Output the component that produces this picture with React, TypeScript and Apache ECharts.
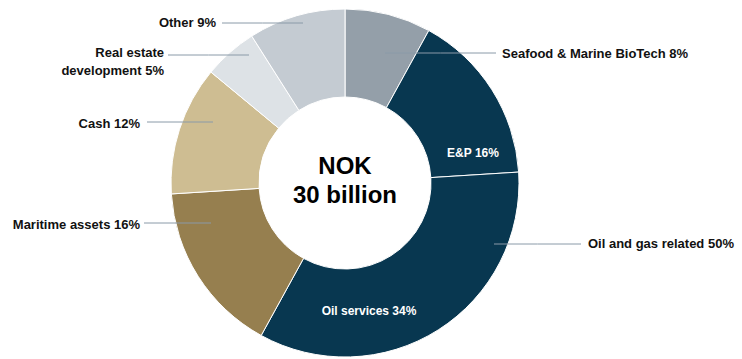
import React, { useEffect, useRef } from "react";
import * as echarts from "echarts";

const sliceNames = [
  "Seafood & Marine BioTech",
  "E&P",
  "Oil services",
  "Maritime assets",
  "Cash",
  "Real estate\ndevelopment",
  "Other",
];
const sliceValues = [8, 16, 34, 16, 12, 5, 9];
const sliceColors = ["#949fa9", "#083750", "#083750", "#967f4f", "#cebd92", "#dde2e6", "#c4cbd2"];
const insideSlices = ["E&P", "Oil services"];

const groupNames = ["Seafood & Marine BioTech", "Oil and gas related", "Rest"];
const groupValues = [8, 50, 42];

const centerTitle = "NOK\n30 billion";

const FONT = "'Liberation Sans', Arial, Helvetica, sans-serif";
const LINE_COLOR = "#8a9aa8";

// label layout in page pixels
const sliceLabelLayout: any[] = [
  { x: 502, y: 53, align: "left", line: [385, 496, 53] },
  { x: 473, y: 153, align: "center" },
  { x: 369, y: 311, align: "center" },
  { x: 140, y: 224, align: "right", line: [211, 144, 223] },
  { x: 140, y: 123, align: "right", line: [213, 147, 122] },
  { x: 164, y: 61, align: "right", line: [249, 168, 55] },
  { x: 216, y: 22, align: "right", line: [303, 222, 23] },
];
const groupLabelLayout: any[] = [
  null,
  { x: 588, y: 243, align: "left", line: [494, 581, 244] },
  null,
];

function makeLayout(layouts: any[]) {
  return (params: any) => {
    const l = layouts[params.dataIndex];
    if (!l) return {};
    const out: any = { x: l.x, y: l.y, align: l.align, verticalAlign: "middle" };
    if (l.line) {
      const [a, b, y] = l.line;
      out.labelLinePoints = [
        [a, y],
        [(a + b) / 2, y],
        [b, y],
      ];
    }
    return out;
  };
}

const labelFormatter = (p: any) => `${p.name} ${p.value}%`;

export default function App() {
  const ref = useRef<HTMLDivElement>(null);
  useEffect(() => {
    const chart = echarts.init(ref.current!, null, { renderer: "svg" });
    const pieBase = {
      type: "pie",
      center: [345, 183],
      radius: [86, 174],
      startAngle: 90,
      clockwise: true,
      avoidLabelOverlap: false,
      silent: true,
    };
    const sectorData = sliceNames.map((n, i) => {
      const inside = insideSlices.includes(n);
      return {
        name: n,
        value: sliceValues[i],
        itemStyle: { color: sliceColors[i] },
        label: { show: inside },
        labelLine: { show: false },
      };
    });
    const outsideLabelData = sliceNames.map((n, i) => {
      const inside = insideSlices.includes(n);
      return {
        name: n,
        value: sliceValues[i],
        label: { show: !inside },
        labelLine: { show: !inside },
      };
    });
    const groupData = groupNames.map((n, i) => ({
      name: n,
      value: groupValues[i],
      label: { show: n === "Oil and gas related" },
      labelLine: { show: n === "Oil and gas related" },
    }));
    const outsideLabel = {
      position: "outside",
      formatter: labelFormatter,
      fontFamily: FONT,
      fontWeight: "bold",
      fontSize: 13,
      lineHeight: 18,
      color: "#111111",
    };
    const outsideLine = { lineStyle: { color: LINE_COLOR, width: 1 } };
    chart.setOption({
      animation: false,
      backgroundColor: "#ffffff",
      graphic: [
        {
          type: "text",
          x: 345,
          y: 180,
          style: {
            text: centerTitle,
            fill: "#000000",
            font: `bold 24px ${FONT}`,
            align: "center",
            verticalAlign: "middle",
            lineHeight: 29,
          },
        },
      ],
      series: [
        {
          ...pieBase,
          z: 2,
          itemStyle: { borderColor: "#ffffff", borderWidth: 1 },
          label: {
            position: "inside",
            formatter: labelFormatter,
            fontFamily: FONT,
            fontWeight: "bold",
            fontSize: 12,
            color: "#ffffff",
          },
          labelLayout: makeLayout(sliceLabelLayout),
          data: sectorData,
        },
        {
          ...pieBase,
          z: 3,
          itemStyle: { color: "rgba(0,0,0,0)", borderWidth: 0 },
          label: outsideLabel,
          labelLine: outsideLine,
          labelLayout: makeLayout(sliceLabelLayout),
          data: outsideLabelData,
        },
        {
          ...pieBase,
          z: 4,
          itemStyle: { color: "rgba(0,0,0,0)", borderWidth: 0 },
          label: outsideLabel,
          labelLine: outsideLine,
          labelLayout: makeLayout(groupLabelLayout),
          data: groupData,
        },
      ],
    });
    return () => chart.dispose();
  }, []);
  return (
    <div
      ref={ref}
      style={{ position: "absolute", left: 0, top: 0, width: 742, height: 359 }}
    />
  );
}
